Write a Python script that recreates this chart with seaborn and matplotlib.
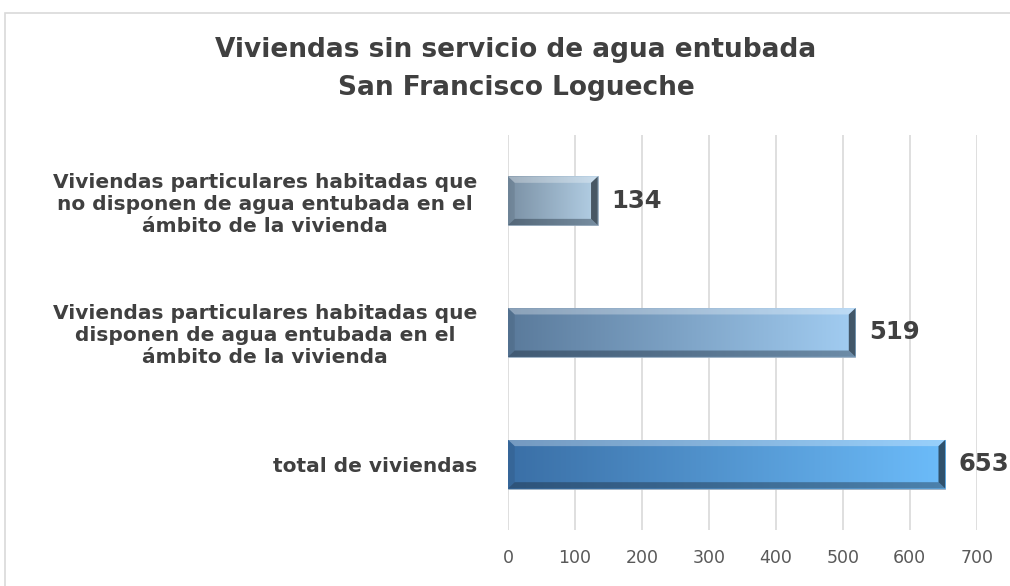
import matplotlib
matplotlib.use("Agg")
import matplotlib.pyplot as plt
import matplotlib.patches as mpatches
from matplotlib.colors import LinearSegmentedColormap
import numpy as np
import pandas as pd
import seaborn as sns

categorias = [
    "Viviendas particulares habitadas que\nno disponen de agua entubada en el\námbito de la vivienda",
    "Viviendas particulares habitadas que\ndisponen de agua entubada en el\námbito de la vivienda",
    "total de viviendas",
]
valores = [134, 519, 653]
colores_izq = ["#7a90a4", "#5a7a9b", "#3a6fa6"]
colores_der = ["#b4d0e6", "#a2cdf2", "#6cbcfa"]

df = pd.DataFrame({"categoria": categorias, "valor": valores})

sns.set_style("white")
plt.rcParams['font.family'] = ['DejaVu Sans']

fig = plt.figure(figsize=(10.1, 5.86), dpi=100)
ax = fig.add_axes([0.503, 0.0956, 0.464, 0.674])

sns.barplot(data=df, x="valor", y="categoria", orient="h", width=0.37,
            color="#5d8fc0", ax=ax)

# degradado y bisel en cada barra
for patch, c0, c1 in zip(ax.patches, colores_izq, colores_der):
    x0, y0 = patch.get_x(), patch.get_y()
    w, h = patch.get_width(), patch.get_height()
    cmap = LinearSegmentedColormap.from_list("g", [c0, c1])
    grad = np.linspace(0, 1, 256).reshape(1, -1)
    im = ax.imshow(grad, cmap=cmap, aspect="auto", extent=[x0, x0 + w, y0 + h, y0],
                   zorder=3, interpolation="bicubic")
    im.set_clip_path(patch)
    patch.set_edgecolor("#9fb2c4")
    patch.set_linewidth(0.6)
    bx = 10
    by = h * 0.13
    # borde superior claro
    ax.add_patch(mpatches.Polygon([[x0, y0], [x0 + w, y0], [x0 + w - bx, y0 + by], [x0 + bx, y0 + by]],
                                  closed=True, facecolor="white", alpha=0.3, lw=0, zorder=4))
    # borde inferior oscuro
    ax.add_patch(mpatches.Polygon([[x0, y0 + h], [x0 + w, y0 + h], [x0 + w - bx, y0 + h - by], [x0 + bx, y0 + h - by]],
                                  closed=True, facecolor="#1c2a38", alpha=0.4, lw=0, zorder=4))
    # extremo derecho oscuro
    ax.add_patch(mpatches.Polygon([[x0 + w, y0], [x0 + w, y0 + h], [x0 + w - bx, y0 + h - by], [x0 + w - bx, y0 + by]],
                                  closed=True, facecolor="#101820", alpha=0.65, lw=0, zorder=4))
    # extremo izquierdo
    ax.add_patch(mpatches.Polygon([[x0, y0], [x0, y0 + h], [x0 + bx, y0 + h - by], [x0 + bx, y0 + by]],
                                  closed=True, facecolor="#1c2a38", alpha=0.12, lw=0, zorder=4))
    patch.set_zorder(2)

for i, v in enumerate(valores):
    ax.text(v + 20, i, str(v), va="center", ha="left", fontsize=17.5,
            fontweight="bold", color="#404040", zorder=5)

ax.set_xlim(0, 700)
ax.set_ylim(2.5, -0.5)
ax.set_xticks(range(0, 701, 100))
ax.grid(axis="x", color="#d9d9d9", linewidth=1.2, zorder=0)
ax.set_axisbelow(True)
sns.despine(ax=ax, left=True, bottom=True)
ax.set_xlabel("")
ax.set_ylabel("")
ax.tick_params(axis="x", length=0, pad=14, labelsize=12.5, labelcolor="#595959")
ax.tick_params(axis="y", length=0, pad=22)
for lab in ax.get_yticklabels():
    lab.set_fontsize(14.5)
    lab.set_fontweight("bold")
    lab.set_color("#404040")
    lab.set_multialignment("center")

fig.text(0.511, 0.915, "Viviendas sin servicio de agua entubada", ha="center", va="center",
         fontsize=19, fontweight="bold", color="#404040")
fig.text(0.511, 0.85, "San Francisco Logueche", ha="center", va="center",
         fontsize=19, fontweight="bold", color="#404040")

fig.patches.append(mpatches.Rectangle((5 / 1010, -0.02), 1.1, 1.02 - 13 / 586,
                                      transform=fig.transFigure, fill=False,
                                      edgecolor="#d9d9d9", linewidth=1.2))

fig.savefig("out.png", dpi=100)
